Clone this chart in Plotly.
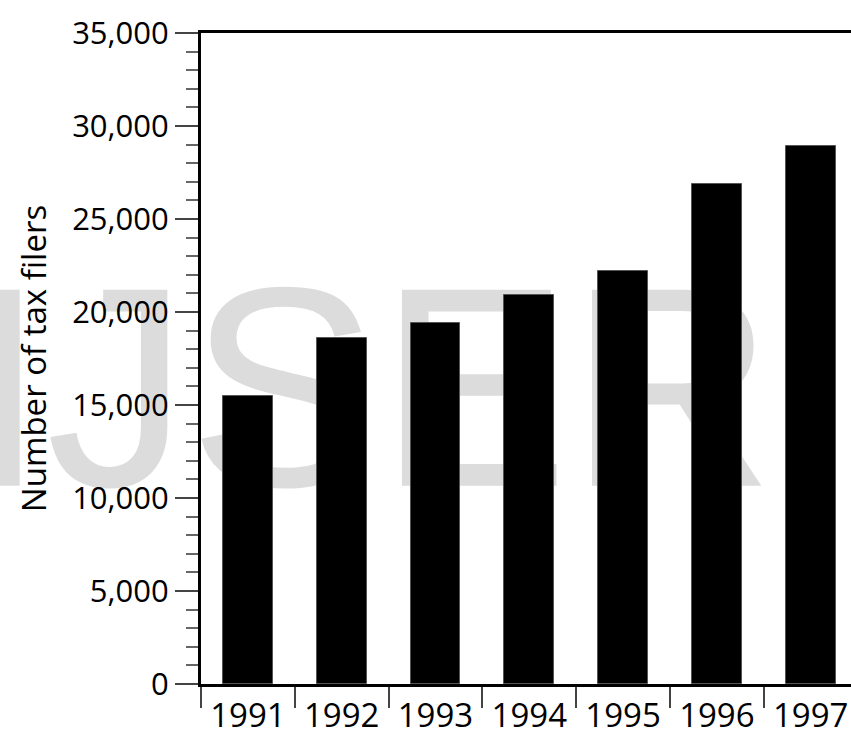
import plotly.graph_objects as go

years = ["1991", "1992", "1993", "1994", "1995", "1996", "1997"]
filers = [15500, 18600, 19400, 20900, 22200, 26900, 28900]
y_tick_vals = [0, 5000, 10000, 15000, 20000, 25000, 30000, 35000]
y_tick_text = ["0", "5,000", "10,000", "15,000", "20,000", "25,000", "30,000", "35,000"]
y_title = "Number of tax filers"
watermark = "IJSER"

fig = go.Figure()
fig.add_trace(go.Bar(
    x=years, y=filers, width=0.53,
    marker=dict(color="black", line=dict(color="#555555", width=1)),
))

fig.add_shape(
    type="rect", xref="paper", yref="paper",
    x0=0.256, x1=0.266, y0=0.493, y1=0.503,
    line=dict(width=0), fillcolor="rgba(0,0,0,0)", layer="below",
    label=dict(text=watermark, textposition="middle center",
               font=dict(family="Liberation Sans, Arial", size=285, color="#dcdcdc")),
)

fig.update_layout(
    width=851, height=746,
    margin=dict(l=201, r=0, t=33, b=62),
    paper_bgcolor="white", plot_bgcolor="rgba(0,0,0,0)",
    showlegend=False,
    bargap=0,
    font=dict(family="Open Sans", color="black"),
)
fig.update_xaxes(
    type="category", range=[-0.5, 6.43],
    showline=True, linecolor="black", linewidth=3, mirror=True,
    ticks="outside", tickson="boundaries", ticklen=21, tickwidth=2, tickcolor="#444444",
    tickfont=dict(family="Open Sans", size=33, color="black"),
    showgrid=False, zeroline=False,
)
fig.update_yaxes(
    range=[0, 35000],
    tickvals=y_tick_vals, ticktext=y_tick_text,
    showline=True, linecolor="black", linewidth=3,
    ticks="outside", ticklen=23, tickwidth=2, tickcolor="#444444",
    minor=dict(dtick=1000, ticks="outside", ticklen=12, tickwidth=2, tickcolor="#666666", showgrid=False),
    tickfont=dict(family="Open Sans", size=31, color="black"),
    title=dict(text=y_title, font=dict(family="Open Sans", size=33, color="black"), standoff=16),
    showgrid=False, zeroline=False,
)

fig.write_html(
    "out.html",
    config={"displayModeBar": False},
    post_script="document.body.style.margin='0';document.body.style.overflow='hidden';",
)
